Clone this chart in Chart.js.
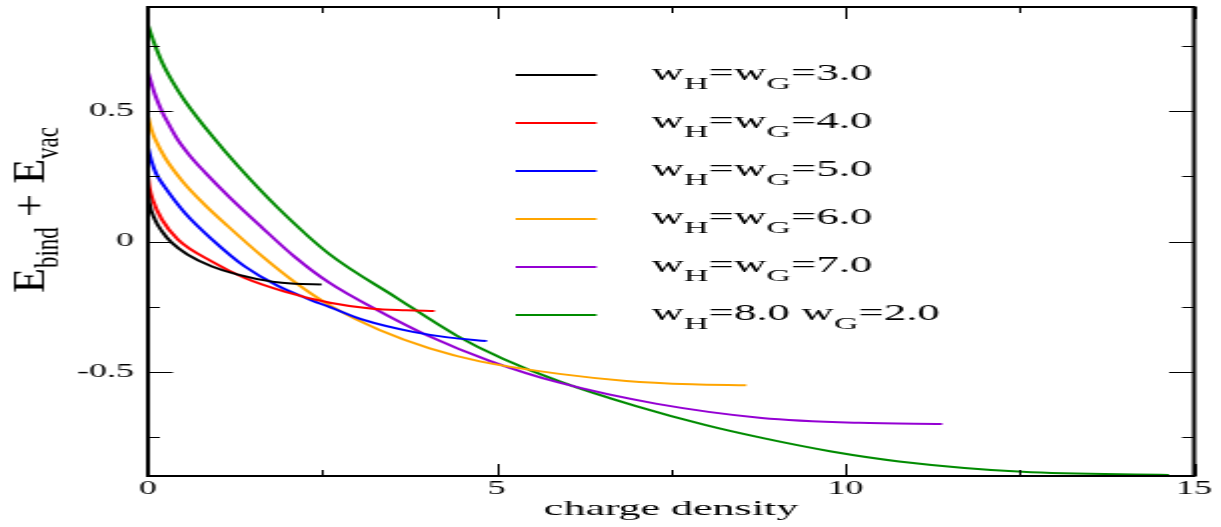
<!DOCTYPE html>
<html>
<head>
<meta charset="utf-8">
<script src="https://cdn.jsdelivr.net/npm/chart.js@4.4.1/dist/chart.umd.min.js"></script>
<style>
  html, body { margin: 0; padding: 0; background: #fff; overflow: hidden; }
  /* the reference is stretched 2x horizontally, so draw narrow and scale */
  #wrap { width: 611px; height: 527px; transform: scaleX(1.99836); transform-origin: 0 0; }
</style>
</head>
<body>
<div id="wrap"><canvas id="chart"></canvas></div>
<script>
// series: x = charge density, y = E_bind + E_vac
const w3x = [0, 0.02, 0.1, 0.2, 0.34, 0.57, 0.92, 1.29, 1.78, 2.1, 2.49];
const w3y = [0.2, 0.15, 0.085, 0.04, -0.004, -0.05, -0.096, -0.127, -0.154, -0.162, -0.165];

const w4x = [0, 0.02, 0.07, 0.2, 0.43, 0.92, 1.39, 1.96, 2.61, 3.22, 3.7, 4.11];
const w4y = [0.25, 0.21, 0.16, 0.085, 0.008, -0.077, -0.14, -0.192, -0.235, -0.258, -0.264, -0.267];

const w5x = [0, 0.05, 0.12, 0.24, 0.53, 0.92, 1.39, 1.86, 2.34, 2.61, 3.08, 3.8, 4.3, 4.86];
const w5y = [0.36, 0.31, 0.26, 0.21, 0.11, 0.008, -0.096, -0.17, -0.225, -0.252, -0.3, -0.347, -0.368, -0.382];

const w6x = [0, 0.05, 0.1, 0.25, 0.5, 0.8, 1.15, 1.63, 2.1, 2.64, 3.32, 4.04, 4.76, 5.9, 6.86, 7.8, 8.58];
const w6y = [0.48, 0.43, 0.395, 0.32, 0.23, 0.145, 0.058, -0.055, -0.155, -0.25, -0.34, -0.41, -0.46, -0.508, -0.535, -0.548, -0.552];

const w7x = [0, 0.1, 0.2, 0.3, 0.43, 0.6, 0.82, 1.17, 1.63, 2.1, 2.6, 3.3, 4.0, 4.9, 5.9, 7.3, 8.8, 10.2, 11.39];
const w7y = [0.65, 0.565, 0.5, 0.45, 0.39, 0.33, 0.265, 0.17, 0.055, -0.058, -0.158, -0.265, -0.36, -0.458, -0.542, -0.623, -0.677, -0.696, -0.7];

const w8x = [0, 0.1, 0.2, 0.35, 0.53, 0.92, 1.29, 1.86, 2.61, 3.56, 4.42, 5.09, 5.9, 7.0, 8.0, 8.77, 9.8, 10.77, 12.54, 14.64];
const w8y = [0.83, 0.755, 0.69, 0.615, 0.54, 0.405, 0.29, 0.13, -0.05, -0.215, -0.36, -0.45, -0.537, -0.632, -0.705, -0.752, -0.806, -0.844, -0.884, -0.896];

const xTickVals = [0, 2.5, 5, 7.5, 10, 12.5, 15];
const yTickVals = [-0.75, -0.5, -0.25, 0, 0.25, 0.5, 0.75];

const legendRows = [
  { color: '#000000', parts: [['w', 0], ['H', 1], ['=w', 0], ['G', 1], ['=3.0', 0]] },
  { color: '#ff0000', parts: [['w', 0], ['H', 1], ['=w', 0], ['G', 1], ['=4.0', 0]] },
  { color: '#0000ff', parts: [['w', 0], ['H', 1], ['=w', 0], ['G', 1], ['=5.0', 0]] },
  { color: '#ffa500', parts: [['w', 0], ['H', 1], ['=w', 0], ['G', 1], ['=6.0', 0]] },
  { color: '#9400d3', parts: [['w', 0], ['H', 1], ['=w', 0], ['G', 1], ['=7.0', 0]] },
  { color: '#008b00', parts: [['w', 0], ['H', 1], ['=8.0 w', 0], ['G', 1], ['=2.0', 0]] }
];

const seriesX = [w3x, w4x, w5x, w6x, w7x, w8x];
const seriesY = [w3y, w4y, w5y, w6y, w7y, w8y];

const FONT = "'Liberation Serif', 'Times New Roman', serif";

function pts(xs, ys) {
  return xs.map((x, i) => ({ x: x, y: ys[i] }));
}

// draws text made of normal / subscript pieces, sx stretches along the text
function drawParts(ctx, parts, x, y, big, small, drop, sxBig, sxSmall) {
  parts.forEach(([txt, sub]) => {
    const sx = sub ? sxSmall : sxBig;
    ctx.font = (sub ? small : big) + 'px ' + FONT;
    ctx.save();
    ctx.translate(x, sub ? y + drop : y);
    ctx.scale(sx, 1);
    ctx.fillText(txt, 0, 0);
    ctx.restore();
    x += ctx.measureText(txt).width * sx;
  });
  return x;
}

const frame = {
  id: 'frame',
  afterDraw(chart) {
    const { ctx, chartArea: a, scales: { x, y } } = chart;
    ctx.save();
    ctx.strokeStyle = '#000';
    ctx.lineWidth = 1;
    ctx.beginPath();
    xTickVals.forEach(v => {
      const len = v % 5 === 0 ? 12 : 6;
      const px = Math.round(x.getPixelForValue(v)) + 0.5;
      ctx.moveTo(px, a.bottom); ctx.lineTo(px, a.bottom - len);
      ctx.moveTo(px, a.top); ctx.lineTo(px, a.top + len);
    });
    yTickVals.forEach(v => {
      const len = v % 0.5 === 0 ? 12.5 : 6;
      const py = Math.round(y.getPixelForValue(v)) + 0.5;
      ctx.moveTo(a.left, py); ctx.lineTo(a.left + len, py);
      ctx.moveTo(a.right, py); ctx.lineTo(a.right - len, py);
    });
    ctx.stroke();
    ctx.lineWidth = 2;
    ctx.strokeRect(a.left, a.top, a.right - a.left, a.bottom - a.top);

    // legend
    legendRows.forEach((row, i) => {
      const ly = 75 + i * 48;
      ctx.strokeStyle = row.color;
      ctx.lineWidth = 2;
      ctx.beginPath();
      ctx.moveTo(258, ly); ctx.lineTo(298.5, ly);
      ctx.stroke();
      ctx.fillStyle = '#000';
      ctx.textBaseline = 'alphabetic';
      ctx.textAlign = 'left';
      drawParts(ctx, row.parts, 326, ly + 5, 22.5, 17, 9, 1, 1);
    });

    // y axis title, rotated
    ctx.translate(22, 293);
    ctx.rotate(-Math.PI / 2);
    ctx.fillStyle = '#000';
    drawParts(ctx, [['E', 0], ['bind', 1], [' + E', 0], ['vac', 1]], 0, 0, 24, 17, 7, 1.7, 1.35);
    ctx.restore();
  }
};

const ctx = document.getElementById('chart').getContext('2d');
new Chart(ctx, {
  type: 'line',
  data: {
    datasets: seriesX.map((xs, i) => ({
      data: pts(xs, seriesY[i]),
      borderColor: legendRows[i].color,
      borderWidth: 2,
      pointRadius: 0,
      fill: false,
      cubicInterpolationMode: 'monotone'
    }))
  },
  options: {
    responsive: true,
    maintainAspectRatio: false,
    animation: false,
    devicePixelRatio: 1,
    layout: { padding: { left: 0, right: 13.5, top: 7, bottom: 0 } },
    plugins: { legend: { display: false }, tooltip: { enabled: false } },
    scales: {
      x: {
        type: 'linear',
        min: 0, max: 15,
        grid: { display: false, drawTicks: false },
        border: { display: false },
        afterFit: s => { s.height = 51; s.paddingLeft = 0; s.paddingRight = 0; },
        afterBuildTicks: s => { s.ticks = xTickVals.map(v => ({ value: v })); },
        ticks: {
          color: '#000',
          padding: 2,
          maxRotation: 0,
          font: { family: FONT, size: 18 },
          callback: v => (v % 5 === 0 ? String(v) : '')
        },
        title: {
          display: true,
          text: 'charge density',
          color: '#000',
          font: { family: FONT, size: 22 },
          padding: { top: 0, bottom: 5 }
        }
      },
      y: {
        type: 'linear',
        min: -0.9, max: 0.9,
        grid: { display: false, drawTicks: false },
        border: { display: false },
        afterFit: s => { s.width = 74; s.paddingTop = 0; s.paddingBottom = 0; },
        afterBuildTicks: s => { s.ticks = yTickVals.map(v => ({ value: v })); },
        ticks: {
          color: '#000',
          padding: 7,
          font: { family: FONT, size: 18 },
          callback: v => (v % 0.5 === 0 ? String(v) : '')
        }
      }
    }
  },
  plugins: [frame]
});
</script>
</body>
</html>
